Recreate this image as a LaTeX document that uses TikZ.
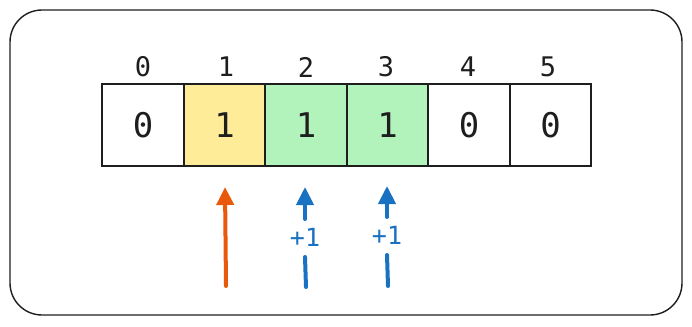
\documentclass[tikz,border=0pt]{standalone}
\usepackage{fontspec}
\setmonofont{DejaVu Sans Mono}
\usetikzlibrary{arrows.meta}
\definecolor{ink}{HTML}{1E1E1E}
\definecolor{cellyellow}{HTML}{FFEC99}
\definecolor{cellgreen}{HTML}{B2F2BB}
\definecolor{arrorange}{HTML}{E8590C}
\definecolor{arrblue}{HTML}{1971C2}
\tikzset{
  cellbox/.style={draw=ink, line width=1.8pt, minimum width=81.5pt, minimum height=82pt, inner sep=0pt, font=\ttfamily\fontsize{34}{34}\selectfont, text=ink},
  idxlabel/.style={font=\ttfamily\fontsize{27}{27}\selectfont, text=ink, inner sep=0pt},
  frame/.style={draw=ink, line width=1.4pt, rounded corners=32pt},
  uparrow/.style={line width=4pt, line cap=round, -{Triangle[width=17pt,length=18pt]}},
  stub/.style={line width=4pt, line cap=round},
  inc/.style={font=\ttfamily\fontsize{25}{25}\selectfont, text=arrblue, inner sep=0pt}
}
\begin{document}
\begin{tikzpicture}[x=1pt,y=-1pt]
\useasboundingbox (0,0) rectangle (692,326);
\draw[frame] (10,10) rectangle (682,315);
% cells
\node[cellbox, fill=white]      (c0) at (143,125) {0};
\node[cellbox, fill=cellyellow] (c1) at (224.5,125) {1};
\node[cellbox, fill=cellgreen]  (c2) at (306,125) {1};
\node[cellbox, fill=cellgreen]  (c3) at (387.5,125) {1};
\node[cellbox, fill=white]      (c4) at (469,125) {0};
\node[cellbox, fill=white]      (c5) at (550.5,125) {0};
% indices
\node[idxlabel] (i0) at (143,67) {0};
\node[idxlabel] (i1) at (226,67) {1};
\node[idxlabel] (i2) at (306,67) {2};
\node[idxlabel] (i3) at (386,67) {3};
\node[idxlabel] (i4) at (468,67) {4};
\node[idxlabel] (i5) at (548,67) {5};
% orange arrow
\coordinate (oBot) at (226,286);
\coordinate (oTop) at (225,187);
\draw[uparrow, draw=arrorange, color=arrorange] (oBot) -- (oTop);
% blue arrows
\node[inc] (p2) at (305,237) {+1};
\coordinate (b2top) at (305,187);
\coordinate (b2low) at (305,219);
\coordinate (b2a) at (305,257);
\coordinate (b2b) at (306,287);
\draw[uparrow, draw=arrblue, color=arrblue] (b2low) -- (b2top);
\draw[stub, draw=arrblue] (b2a) -- (b2b);
\node[inc] (p3) at (387,235) {+1};
\coordinate (b3top) at (387,186);
\coordinate (b3low) at (387,217);
\coordinate (b3a) at (387,255);
\coordinate (b3b) at (388,286);
\draw[uparrow, draw=arrblue, color=arrblue] (b3low) -- (b3top);
\draw[stub, draw=arrblue] (b3a) -- (b3b);
\end{tikzpicture}
\end{document}
